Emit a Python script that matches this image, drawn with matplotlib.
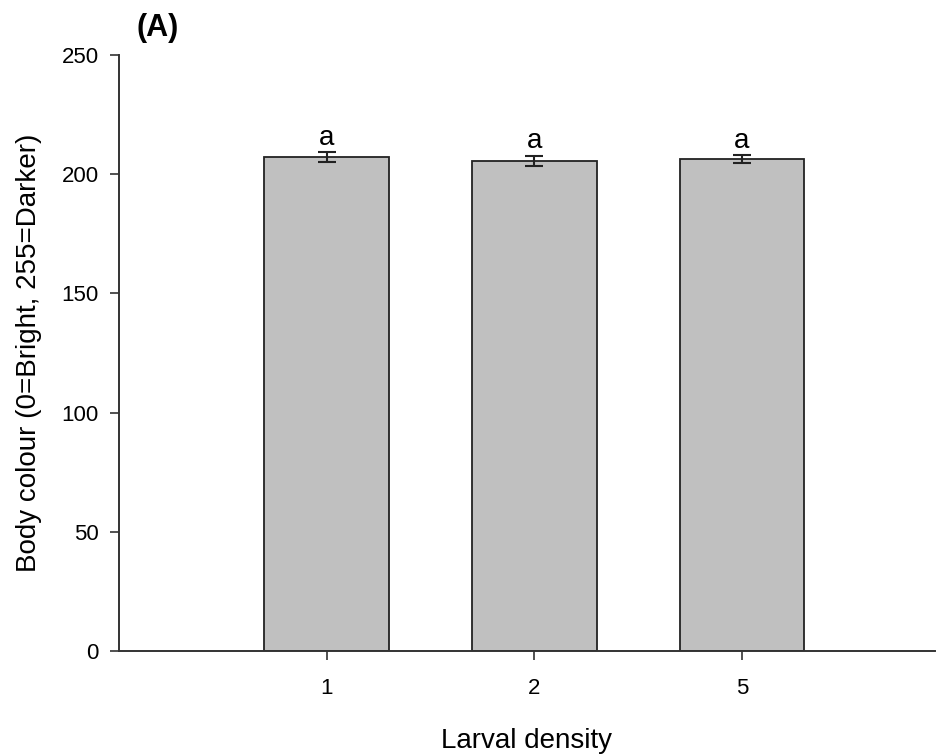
import matplotlib
matplotlib.use("Agg")
import matplotlib.pyplot as plt
import numpy as np

plt.rcParams['font.family'] = ['Liberation Sans', 'DejaVu Sans']

categories = ["1", "2", "5"]
values = [207.2, 205.8, 206.4]
errors = [2.0, 2.1, 1.6]
letters = ["a", "a", "a"]

fig = plt.figure(figsize=(9.36, 7.56), dpi=100)
ax = fig.add_axes([0.127, 0.139, 0.872, 0.788])

x = np.arange(len(categories))
ax.bar(x, values, width=0.6, color="#c0c0c0", edgecolor="#222222", linewidth=1.3, zorder=2)
ax.errorbar(x, values, yerr=errors, fmt="none", ecolor="#222222", elinewidth=1.5,
            capsize=6.5, capthick=1.5, zorder=3)
for xi, v, e, l in zip(x, values, errors, letters):
    ax.text(xi, v + e + 3.0, l, ha="center", va="baseline", fontsize=20)

ax.set_xlim(-1.0, 2.93)
ax.set_ylim(0, 250)
ax.set_yticks([0, 50, 100, 150, 200, 250])
ax.set_xticks(x)
ax.set_xticklabels(categories)
ax.tick_params(axis="both", direction="out", length=6.5, width=1.2, labelsize=16, color="#333333")
ax.tick_params(axis="x", pad=13)
ax.tick_params(axis="y", pad=8)
for s in ["top", "right"]:
    ax.spines[s].set_visible(False)
for s in ["left", "bottom"]:
    ax.spines[s].set_color("#333333")
    ax.spines[s].set_linewidth(1.4)

ax.set_ylabel("Body colour (0=Bright, 255=Darker)", fontsize=20, labelpad=14)
ax.set_xlabel("Larval density", fontsize=20, labelpad=21)
fig.text(0.146, 0.963, "(A)", fontsize=22, fontweight="bold", ha="left", va="center")

fig.savefig("out.png", dpi=100)
